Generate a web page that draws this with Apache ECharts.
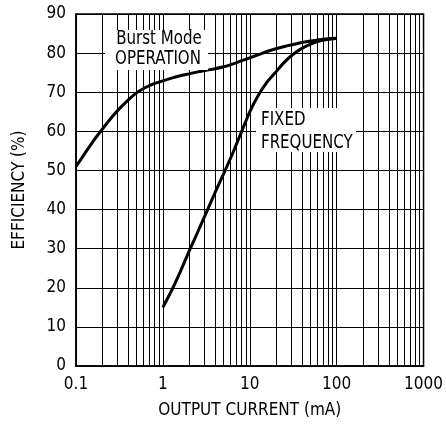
<!DOCTYPE html>
<html>
<head>
<meta charset="utf-8">
<script src="https://cdn.jsdelivr.net/npm/echarts@6/dist/echarts.min.js"></script>
<style>
html,body{margin:0;padding:0;background:#fff;}
#chart{width:446px;height:424px;}
</style>
</head>
<body>
<div id="chart"></div>
<script>
// Output current (mA) and efficiency (%)
const burstCurrent = [0.1, 0.126, 0.158, 0.2, 0.251, 0.316, 0.398, 0.501, 0.631, 0.794, 1, 1.26, 1.58, 2, 2.51, 3.16, 3.98, 5.01, 6.31, 7.94, 10, 12.6, 15.8, 20, 25.1, 31.6, 39.8, 50.1, 63.1, 79.4, 100];
const burstEff     = [51, 54.3, 57.5, 60.5, 63.3, 65.8, 68, 69.9, 71.2, 72.2, 72.9, 73.6, 74.2, 74.7, 75.2, 75.6, 76, 76.5, 77.2, 78, 78.8, 79.6, 80.4, 81.1, 81.7, 82.2, 82.7, 83.1, 83.4, 83.7, 83.8];
const fixedCurrent = [1, 1.26, 1.58, 2, 2.51, 3.16, 3.98, 5.01, 6.31, 7.94, 10, 12.6, 15.8, 20, 25.1, 31.6, 39.8, 50.1, 63.1, 79.4, 100];
const fixedEff     = [15, 19.3, 24, 29.3, 34.2, 39.2, 44.3, 49.2, 54.2, 59.6, 65, 69.3, 72.6, 75.2, 77.7, 79.7, 81.2, 82.3, 83.1, 83.5, 83.8];
const xTickLabels = ['0.1', '1', '10', '100', '1000'];
const yTicks = [0, 10, 20, 30, 40, 50, 60, 70, 80, 90];
const xMinorGrid = [0.2,0.3,0.4,0.5,0.6,0.7,0.8,0.9, 2,3,4,5,6,7,8,9, 20,30,40,50,60,70,80,90, 200,300,400,500,600,700,800,900];
const burstLabel = ['Burst Mode', 'OPERATION'];
const fixedLabel = ['FIXED', 'FREQUENCY'];

const FONT = "'DejaVu Sans Condensed', 'Liberation Sans Narrow', Roboto, sans-serif";
const chart = echarts.init(document.getElementById('chart'), null, {renderer: 'canvas'});
const pair = (xs, ys) => xs.map((x, i) => [x, ys[i]]);
const lbl = (x, y, text, align) => ({
  type: 'text', z: 101, x: x, y: y, scaleX: 0.88,
  style: {x: 0, y: 0, text: text, fontFamily: FONT, fontSize: 19, fill: '#000', align: align, verticalAlign: 'middle'}
});

chart.setOption({
  animation: false,
  backgroundColor: '#fff',
  grid: {left: 76, right: 18, top: 14, bottom: 58, show: true, borderColor: '#000', borderWidth: 1.5, backgroundColor: 'transparent'},
  xAxis: {
    type: 'log', logBase: 10, min: 0.1, max: 1000,
    name: 'OUTPUT CURRENT (mA)', nameLocation: 'middle', nameGap: 36,
    nameTextStyle: {fontFamily: FONT, fontSize: 17, color: '#000'},
    axisLine: {show: true, lineStyle: {color: '#000', width: 1.5}},
    axisTick: {show: false},
    splitLine: {show: true, lineStyle: {color: '#000', width: 1}},
    axisLabel: {
      fontFamily: FONT, fontSize: 17, color: '#000', margin: 10,
      formatter: v => { const e = Math.round(Math.log10(v)) + 1; return xTickLabels[e] !== undefined ? xTickLabels[e] : ''; }
    }
  },
  yAxis: {
    type: 'value', min: 0, max: 90, interval: 10,
    name: 'EFFICIENCY (%)', nameLocation: 'middle', nameGap: 48, nameRotate: 90,
    nameTextStyle: {fontFamily: FONT, fontSize: 17, color: '#000'},
    axisLine: {show: true, lineStyle: {color: '#000', width: 1.5}},
    axisTick: {show: false},
    splitLine: {show: true, lineStyle: {color: '#000', width: 1}},
    axisLabel: {fontFamily: FONT, fontSize: 17, color: '#000', margin: 10,
      formatter: v => yTicks.includes(v) ? String(v) : ''}
  },
  graphic: [
    {type: 'rect', z: 100, shape: {x: 105, y: 30, width: 103, height: 40}, style: {fill: '#fff'}},
    lbl(159, 39, burstLabel[0], 'center'),
    lbl(158, 59, burstLabel[1], 'center'),
    {type: 'rect', z: 100, shape: {x: 256, y: 108, width: 100, height: 44}, style: {fill: '#fff'}},
    lbl(261, 120, fixedLabel[0], 'left'),
    lbl(261, 143, fixedLabel[1], 'left')
  ],
  series: [
    {
      type: 'line', data: [], z: 1, silent: true,
      markLine: {
        silent: true, symbol: 'none', animation: false,
        label: {show: false},
        lineStyle: {color: '#000', width: 1, type: 'solid'},
        data: xMinorGrid.map(x => ({xAxis: x}))
      }
    },
    {
      name: 'Burst Mode', type: 'line', z: 5, data: pair(burstCurrent, burstEff),
      showSymbol: false, symbol: 'none', smooth: 0.25,
      lineStyle: {color: '#000', width: 3}
    },
    {
      name: 'Fixed Frequency', type: 'line', z: 5, data: pair(fixedCurrent, fixedEff),
      showSymbol: false, symbol: 'none', smooth: 0.25,
      lineStyle: {color: '#000', width: 3}
    }
  ]
});
</script>
</body>
</html>
